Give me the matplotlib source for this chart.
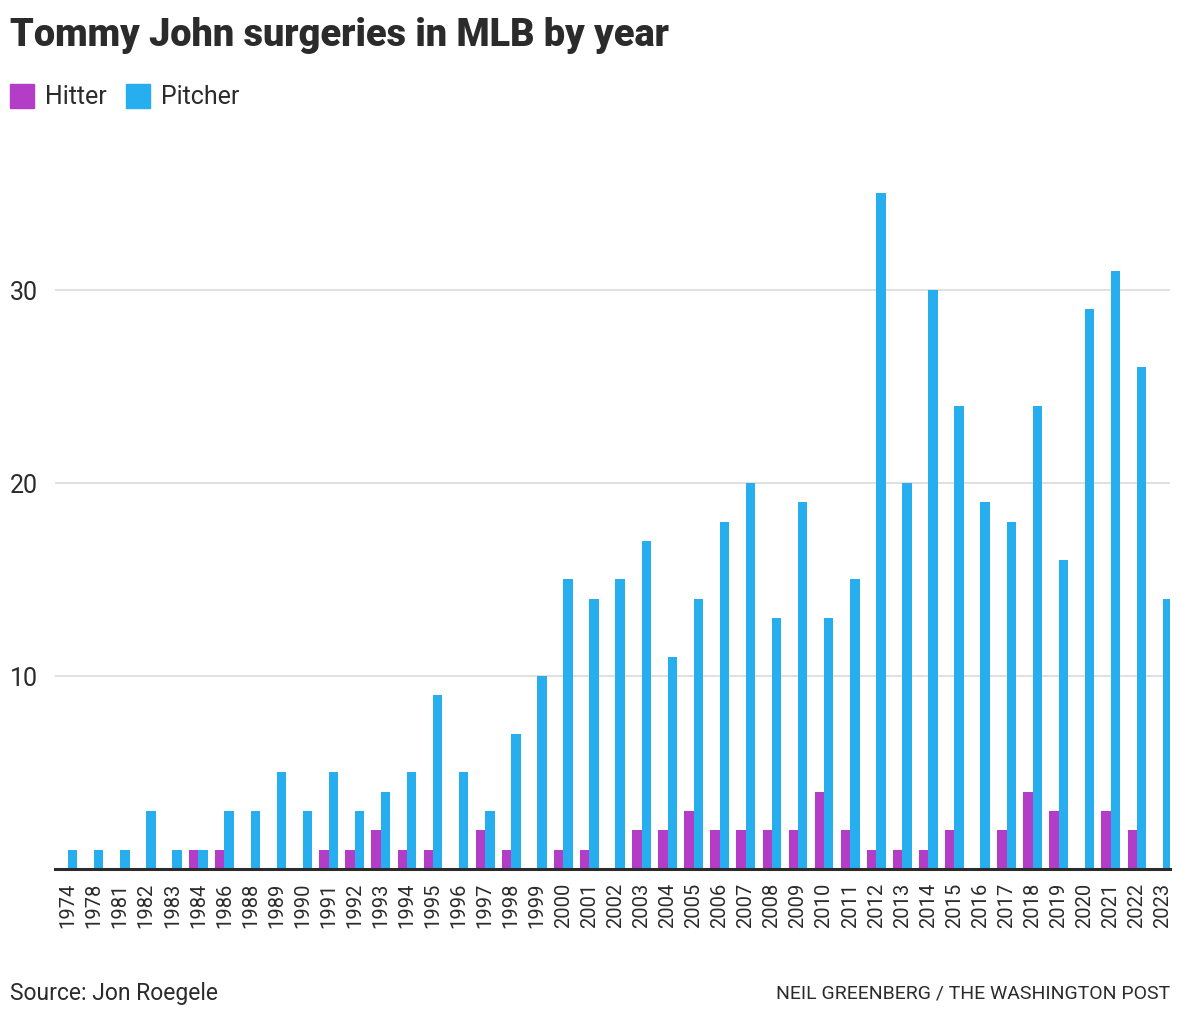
import matplotlib
matplotlib.use("Agg")
import matplotlib.pyplot as plt
import numpy as np
from matplotlib.patches import Rectangle

years = ["1974", "1978", "1981", "1982", "1983", "1984", "1986", "1988", "1989", "1990",
         "1991", "1992", "1993", "1994", "1995", "1996", "1997", "1998", "1999", "2000",
         "2001", "2002", "2003", "2004", "2005", "2006", "2007", "2008", "2009", "2010",
         "2011", "2012", "2013", "2014", "2015", "2016", "2017", "2018", "2019", "2020",
         "2021", "2022", "2023"]
hitter = [0, 0, 0, 0, 0, 1, 1, 0, 0, 0,
          1, 1, 2, 1, 1, 0, 2, 1, 0, 1,
          1, 0, 2, 2, 3, 2, 2, 2, 2, 4,
          2, 1, 1, 1, 2, 0, 2, 4, 3, 0,
          3, 2, 0]
pitcher = [1, 1, 1, 3, 1, 1, 3, 3, 5, 3,
           5, 3, 4, 5, 9, 5, 3, 7, 10, 15,
           14, 15, 17, 11, 14, 18, 20, 13, 19, 13,
           15, 35, 20, 30, 24, 19, 18, 24, 16, 29,
           31, 26, 14]
yticks = [10, 20, 30]

HIT_C = "#b33dc6"
PIT_C = "#27aeef"
TXT = "#2b2b2b"
FONT = ["Roboto", "DejaVu Sans"]
plt.rcParams['font.family'] = FONT

W, H = 1180, 1020
fig = plt.figure(figsize=(W / 100, H / 100), dpi=100)
ax = fig.add_axes([55 / W, 1 - 870 / H, (1170 - 55) / W, (870 - 150) / H])

x = np.arange(len(years))
bw = 0.36
ax.bar(x - bw / 2, hitter, width=bw, color=HIT_C, zorder=3)
ax.bar(x + bw / 2, pitcher, width=bw, color=PIT_C, zorder=3)

ax.set_xlim(-0.5, 42.27)
ax.set_ylim(0, 37.3)
ax.set_yticks(yticks)
ax.set_yticklabels([str(v) for v in yticks])
for t in ax.get_yticklabels():
    t.set_fontsize(18)
    t.set_color(TXT)
    t.set_horizontalalignment("left")
ax.tick_params(axis="y", length=0, pad=45 * 0.72)
ax.grid(axis="y", color="#dadada", linewidth=1.2, zorder=0)
ax.set_xticks(x)
ax.set_xticklabels(years, rotation=90, fontsize=14.5, color=TXT)
ax.tick_params(axis="x", length=0, pad=9)
for s in ["top", "right", "left"]:
    ax.spines[s].set_visible(False)
ax.spines["bottom"].set_color("#2b2b2b")
ax.spines["bottom"].set_linewidth(2.2)
ax.spines["bottom"].set_zorder(4)

fig.text(10 / W, 1 - 35 / H, "Tommy John surgeries in MLB by year", fontsize=27.3,
         fontweight="black", color=TXT, va="center", ha="left")

# legend
for (lx, label, col) in [(10, "Hitter", HIT_C), (126, "Pitcher", PIT_C)]:
    fig.patches.append(Rectangle((lx / W, 1 - 109 / H), 24 / W, 24 / H,
                                 transform=fig.transFigure, color=col))
    fig.text((lx + 35) / W, 1 - 97 / H, label, fontsize=18, color=TXT,
             va="center", ha="left")

fig.text(10 / W, 1 - 994 / H, "Source: Jon Roegele", fontsize=16.5, color=TXT,
         va="center", ha="left")
fig.text(1170 / W, 1 - 994 / H, "NEIL GREENBERG / THE WASHINGTON POST", fontsize=14,
         color=TXT, va="center", ha="right")

fig.savefig("out.png", dpi=100)
